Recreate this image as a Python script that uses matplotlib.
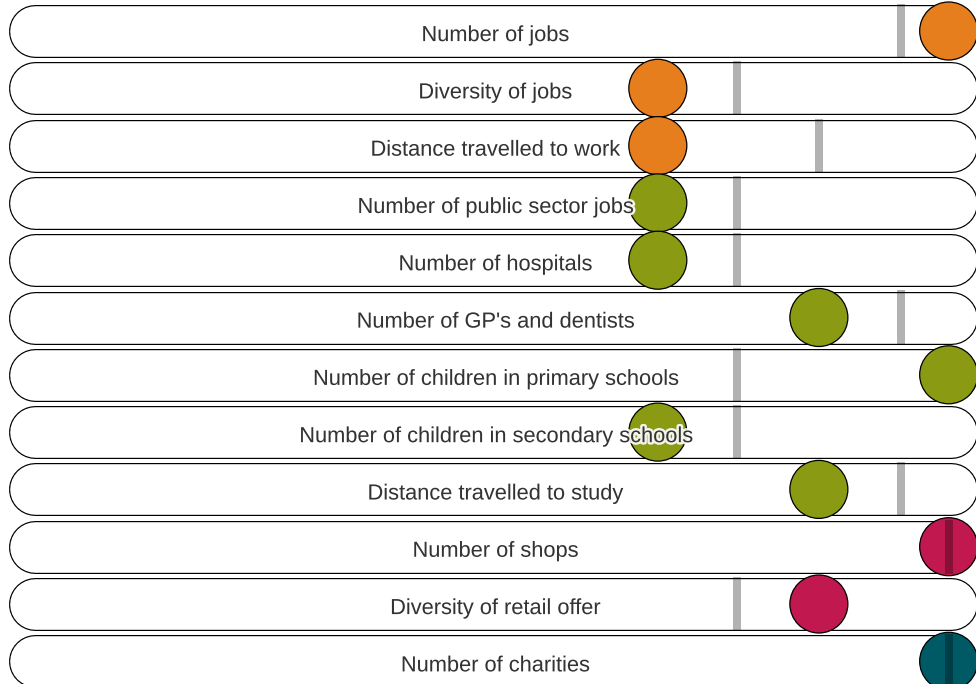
import numpy as np
import matplotlib
matplotlib.use("Agg")
import matplotlib.pyplot as plt
import matplotlib.patheffects as pe

# indicator rows, top to bottom
labels = [
    "Number of jobs",
    "Diversity of jobs",
    "Distance travelled to work",
    "Number of public sector jobs",
    "Number of hospitals",
    "Number of GP's and dentists",
    "Number of children in primary schools",
    "Number of children in secondary schools",
    "Distance travelled to study",
    "Number of shops",
    "Diversity of retail offer",
    "Number of charities",
]
# area score (circle) and benchmark (grey bar), on a 0-100 scale
scores = [97.2, 67.4, 67.4, 67.4, 67.4, 83.9, 97.2, 67.4, 83.9, 97.2, 83.9, 97.2]
benchmarks = [92.3, 75.5, 83.9, 75.5, 75.5, 92.3, 75.5, 75.5, 92.3, 97.2, 75.5, 97.2]
themes = ["work", "work", "work", "services", "services", "services",
          "services", "services", "services", "retail", "retail", "community"]

theme_colors = {"work": "#e67e1e", "services": "#8a9a12",
                "retail": "#c0184f", "community": "#005a66"}

W, H = 976, 684
dpi = 100
px = 72.0 / dpi  # points per pixel

fig = plt.figure(figsize=(W / dpi, H / dpi), dpi=dpi)
ax = fig.add_axes([0, 0, 1, 1])
ax.set_xlim(0, 100)
row_px = 57.3
top = -31 / row_px
ax.set_ylim(top + H / row_px, top)
ax.axis("off")

rows = np.arange(len(labels))
pill_h = 53       # pill height, px
x_unit = W / 100  # px per x unit
r = pill_h / 2 / x_unit
x0, x1 = 8 / x_unit + r, 977 / x_unit - r

# pill backgrounds: black round-capped line with a slightly thinner white one on top
for y in rows:
    ax.plot([x0, x1], [y, y], color="black", lw=pill_h * px,
            solid_capstyle="round", zorder=1)
    ax.plot([x0, x1], [y, y], color="white", lw=(pill_h - 2.4) * px,
            solid_capstyle="round", zorder=2)

# score circles
colors = [theme_colors[t] for t in themes]
ax.scatter(scores, rows, s=(58 * px) ** 2, c=colors, edgecolors="black",
           linewidths=0.9, zorder=3)

# benchmark bars, translucent so they darken where they cross a circle
half = (pill_h + 1) / 2 / row_px
ax.vlines(benchmarks, rows - half, rows + half, colors="black", alpha=0.3,
          lw=8 * px, zorder=4)

for y, lab in zip(rows, labels):
    ax.text(50.7, y + 0.08, lab, ha="center", va="center", fontsize=15.7,
            family="Liberation Sans", color="#333333", zorder=5,
            path_effects=[pe.withStroke(linewidth=3.5, foreground="white",
                                        alpha=0.9)])

fig.savefig("out.png", dpi=dpi)
